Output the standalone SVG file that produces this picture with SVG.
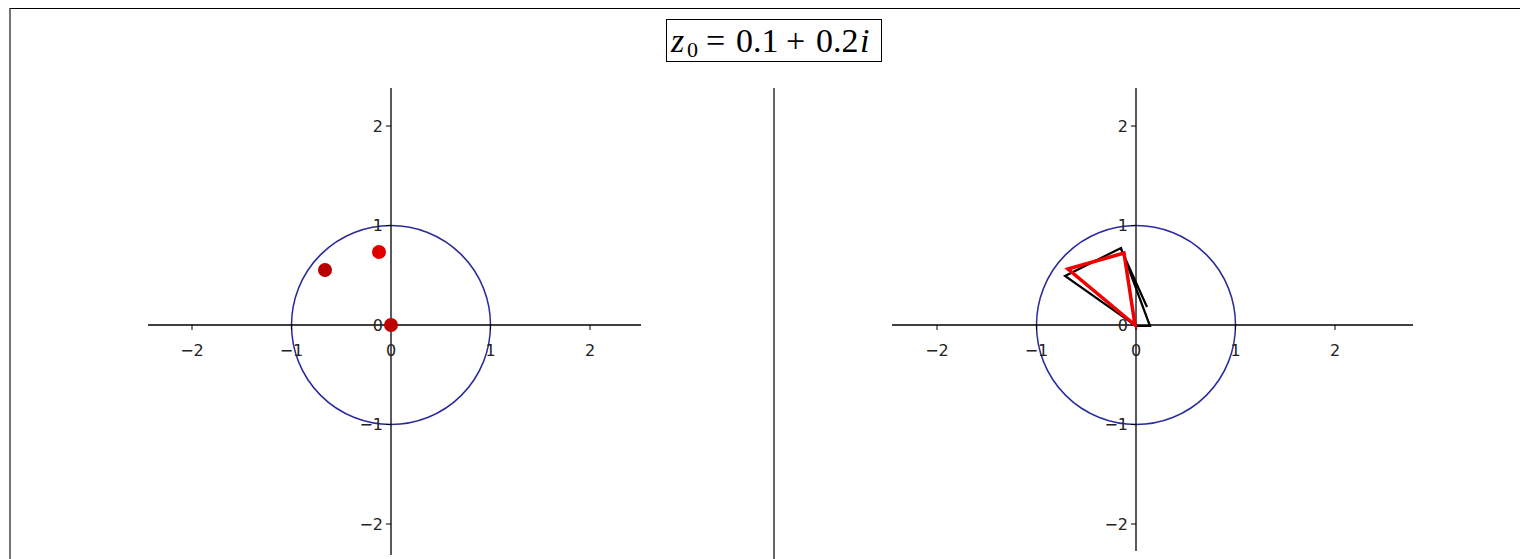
<svg xmlns="http://www.w3.org/2000/svg" width="1520" height="559" viewBox="0 0 1520 559">
<style>
.ax{stroke:#000;stroke-width:1.3;fill:none}
.tk{stroke:#000;stroke-width:1}
.tl{font-family:"DejaVu Sans",sans-serif;font-size:16px;fill:#222}
.xl{text-anchor:middle}
.yl{text-anchor:end}
.circ{stroke:#2a2a9c;stroke-width:1.5;fill:none}
.tt{font-family:"Liberation Serif",serif;font-size:34px;fill:#000}
.sub{font-size:22px}
</style>
<rect width="1520" height="559" fill="#fff"/>
<g id="frame">
<line x1="9.5" y1="8.5" x2="1520" y2="8.5" stroke="#000" stroke-width="1"/>
<line x1="10" y1="8" x2="10" y2="559" stroke="#444" stroke-width="1.5"/>
<line x1="774" y1="88" x2="774" y2="559" stroke="#333" stroke-width="1.5"/>
</g>
<g id="title">
<rect x="666.5" y="19.5" width="215" height="42" fill="#fff" stroke="#000" stroke-width="1"/>
<text class="tt" x="671" y="52" font-style="italic">z</text>
<text class="tt sub" x="687" y="57">0</text>
<text class="tt" x="706" y="52">=</text>
<text class="tt" x="736" y="52">0.1</text>
<text class="tt" x="786" y="52">+</text>
<text class="tt" x="816" y="52">0.2</text>
<text class="tt" x="860" y="52" font-style="italic">i</text>
</g>
<g id="left-plot">
<circle class="circ" cx="391" cy="325" r="99.5"/>
<line class="ax" x1="148" y1="325" x2="641" y2="325"/>
<line class="ax" x1="391" y1="88" x2="391" y2="555"/>
<g class="tk">
<line x1="192" y1="325" x2="192" y2="330"/><line x1="291.5" y1="325" x2="291.5" y2="330"/><line x1="391" y1="325" x2="391" y2="330"/><line x1="490.5" y1="325" x2="490.5" y2="330"/><line x1="590" y1="325" x2="590" y2="330"/>
<line x1="386" y1="126" x2="391" y2="126"/><line x1="386" y1="225.5" x2="391" y2="225.5"/><line x1="386" y1="325" x2="391" y2="325"/><line x1="386" y1="424.5" x2="391" y2="424.5"/><line x1="386" y1="524" x2="391" y2="524"/>
</g>
<text class="tl xl" x="192" y="356">−2</text><text class="tl xl" x="291.5" y="356">−1</text><text class="tl xl" x="391" y="356">0</text><text class="tl xl" x="490.5" y="356">1</text><text class="tl xl" x="590" y="356">2</text>
<text class="tl yl" x="383" y="132">2</text><text class="tl yl" x="383" y="231">1</text><text class="tl yl" x="383" y="331">0</text><text class="tl yl" x="383" y="430">−1</text><text class="tl yl" x="383" y="530">−2</text>
<circle cx="325" cy="270" r="7" fill="#b80000"/>
<circle cx="379" cy="252" r="7" fill="#e00000"/>
<circle cx="391" cy="325" r="7" fill="#c00000"/>
</g>
<g id="right-plot">
<circle class="circ" cx="1136" cy="325" r="99.5"/>
<line class="ax" x1="892" y1="325" x2="1413" y2="325"/>
<line class="ax" x1="1136" y1="88" x2="1136" y2="551"/>
<g class="tk">
<line x1="937" y1="325" x2="937" y2="330"/><line x1="1036.5" y1="325" x2="1036.5" y2="330"/><line x1="1136" y1="325" x2="1136" y2="330"/><line x1="1235.5" y1="325" x2="1235.5" y2="330"/><line x1="1335" y1="325" x2="1335" y2="330"/>
<line x1="1131" y1="126" x2="1136" y2="126"/><line x1="1131" y1="225.5" x2="1136" y2="225.5"/><line x1="1131" y1="325" x2="1136" y2="325"/><line x1="1131" y1="424.5" x2="1136" y2="424.5"/><line x1="1131" y1="524" x2="1136" y2="524"/>
</g>
<text class="tl xl" x="937" y="356">−2</text><text class="tl xl" x="1036.5" y="356">−1</text><text class="tl xl" x="1136" y="356">0</text><text class="tl xl" x="1235.5" y="356">1</text><text class="tl xl" x="1335" y="356">2</text>
<text class="tl yl" x="1128" y="132">2</text><text class="tl yl" x="1128" y="231">1</text><text class="tl yl" x="1128" y="331">0</text><text class="tl yl" x="1128" y="430">−1</text><text class="tl yl" x="1128" y="530">−2</text>
<path d="M1065 276 L1121 248 L1150 326 L1136 326 Z M1121 249 L1147 307" fill="none" stroke="#000" stroke-width="2.2" stroke-linejoin="miter"/>
<path d="M1068 269 L1124 253 L1135 325 Z" fill="none" stroke="#f00000" stroke-width="3.5"/>
</g>
</svg>
